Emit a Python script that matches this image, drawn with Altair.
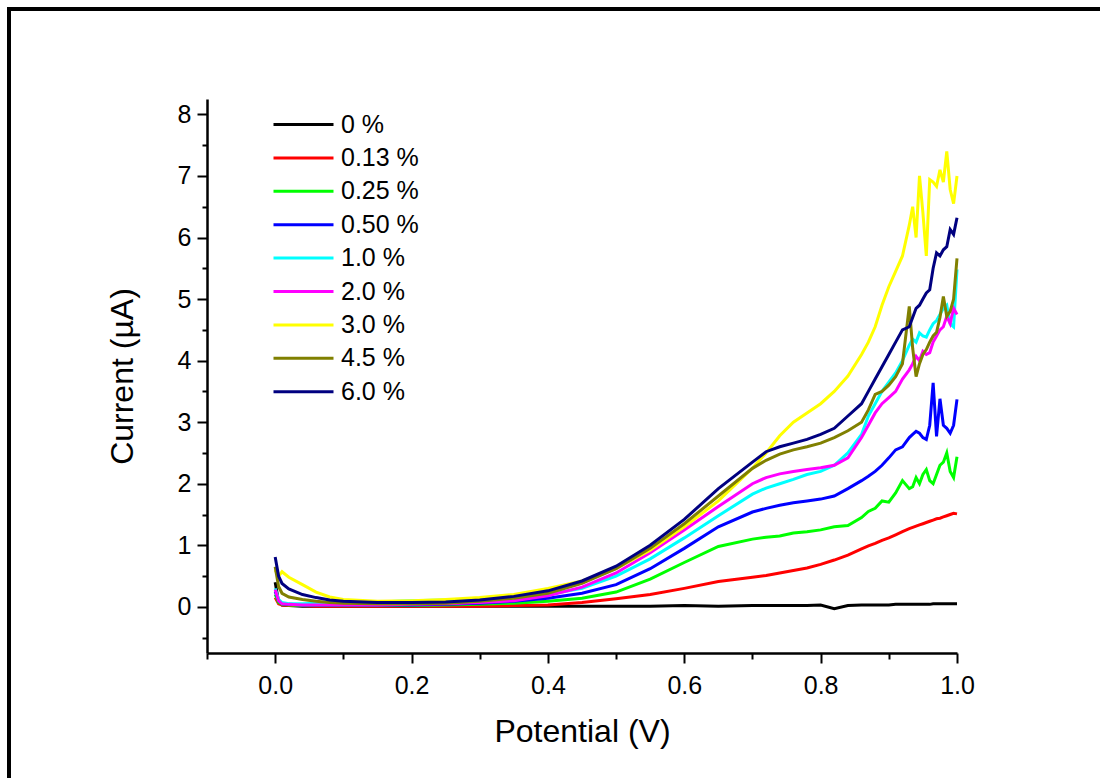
import altair as alt
import pandas as pd

# ---------------- data ----------------
POTENTIAL = [0, 0.005, 0.01, 0.02, 0.04, 0.06, 0.08, 0.1,
             0.15, 0.2, 0.25, 0.3, 0.35, 0.4, 0.45, 0.5, 0.55, 0.6, 0.65, 0.7,
             0.72, 0.74, 0.76, 0.78, 0.8, 0.82, 0.84, 0.86,
             0.87, 0.88, 0.89, 0.9, 0.91, 0.92, 0.93,
             0.935, 0.94, 0.945, 0.95, 0.955, 0.96, 0.965, 0.97, 0.975, 0.98, 0.985, 0.99, 0.995, 1.0]

SERIES = ["0 %", "0.13 %", "0.25 %", "0.50 %", "1.0 %", "2.0 %", "3.0 %", "4.5 %", "6.0 %"]
COLORS = ["#000000", "#FF0000", "#00FF00", "#0000FF", "#00FFFF", "#FF00FF", "#FFFF00", "#808000", "#000080"]

I_0 = [0.40, 0.08, 0.03, 0.02, 0.01, 0.01, 0.01, 0.01,
       0.01, 0.01, 0.01, 0.01, 0.01, 0.01, 0.01, 0.01, 0.01, 0.02, 0.01, 0.02,
       0.02, 0.02, 0.02, 0.02, 0.03, -0.03, 0.02, 0.03,
       0.03, 0.03, 0.03, 0.03, 0.04, 0.04, 0.04,
       0.04, 0.04, 0.04, 0.04, 0.04, 0.04, 0.05, 0.05, 0.05, 0.05, 0.05, 0.05, 0.05, 0.05]
I_013 = [0.15, 0.05, 0.03, 0.02, 0.02, 0.01, 0.01, 0.01,
         0.01, 0.01, 0.01, 0.01, 0.02, 0.03, 0.07, 0.13, 0.20, 0.30, 0.41, 0.48,
         0.51, 0.55, 0.59, 0.63, 0.69, 0.76, 0.84, 0.94,
         0.99, 1.03, 1.08, 1.12, 1.17, 1.22, 1.27,
         1.29, 1.31, 1.33, 1.35, 1.37, 1.39, 1.41, 1.43, 1.44, 1.46, 1.48, 1.50, 1.52, 1.51]
I_025 = [0.20, 0.07, 0.04, 0.03, 0.02, 0.02, 0.02, 0.02,
         0.02, 0.02, 0.03, 0.04, 0.06, 0.09, 0.14, 0.24, 0.45, 0.72, 0.98, 1.10,
         1.13, 1.15, 1.20, 1.22, 1.25, 1.30, 1.32, 1.45,
         1.55, 1.60, 1.72, 1.70, 1.85, 2.05, 1.92,
         1.95, 2.10, 2.00, 2.15, 2.23, 2.05, 2.00, 2.15, 2.30, 2.35, 2.50, 2.20, 2.10, 2.44]
I_050 = [0.25, 0.10, 0.05, 0.04, 0.03, 0.03, 0.03, 0.03,
         0.03, 0.03, 0.04, 0.06, 0.09, 0.14, 0.22, 0.36, 0.62, 0.95, 1.30, 1.54,
         1.60, 1.65, 1.69, 1.72, 1.75, 1.80, 1.92, 2.05,
         2.12, 2.20, 2.30, 2.42, 2.55, 2.60, 2.75,
         2.80, 2.85, 2.82, 2.75, 2.72, 2.95, 3.64, 2.77, 3.38, 2.95, 2.90, 2.82, 2.95, 3.37]
I_10 = [0.30, 0.12, 0.07, 0.05, 0.05, 0.06, 0.07, 0.07,
        0.08, 0.10, 0.11, 0.13, 0.15, 0.20, 0.30, 0.50, 0.78, 1.12, 1.48, 1.83,
        1.93, 2.00, 2.07, 2.15, 2.20, 2.30, 2.50, 2.80,
        3.10, 3.30, 3.50, 3.65, 3.80, 4.00, 4.25,
        4.35, 4.30, 4.45, 4.40, 4.38, 4.50, 4.60, 4.65, 4.75, 4.85, 4.90, 4.60, 4.55, 5.48]
I_20 = [0.28, 0.10, 0.05, 0.04, 0.03, 0.03, 0.03, 0.03,
        0.03, 0.04, 0.05, 0.07, 0.10, 0.18, 0.32, 0.55, 0.88, 1.25, 1.63, 2.00,
        2.10, 2.16, 2.20, 2.23, 2.26, 2.30, 2.42, 2.75,
        2.95, 3.15, 3.30, 3.40, 3.50, 3.70, 3.85,
        3.95, 4.07, 4.00, 4.15, 4.10, 4.13, 4.30, 4.40, 4.50, 4.55, 4.72, 4.60, 4.85, 4.75]
I_30 = [0.60, 0.50, 0.57, 0.48, 0.36, 0.24, 0.16, 0.12,
        0.09, 0.10, 0.12, 0.15, 0.20, 0.30, 0.42, 0.62, 0.92, 1.30, 1.72, 2.25,
        2.50, 2.78, 3.00, 3.15, 3.30, 3.50, 3.75, 4.10,
        4.30, 4.55, 4.90, 5.20, 5.45, 5.70, 6.20,
        6.50, 6.00, 7.00, 6.40, 5.70, 6.94, 6.90, 6.83, 7.10, 6.90, 7.40, 6.78, 6.55, 7.00]
I_45 = [0.65, 0.33, 0.22, 0.16, 0.12, 0.09, 0.07, 0.06,
        0.05, 0.05, 0.06, 0.09, 0.14, 0.22, 0.38, 0.62, 0.95, 1.35, 1.80, 2.25,
        2.38, 2.48, 2.55, 2.60, 2.66, 2.75, 2.86, 3.00,
        3.20, 3.45, 3.50, 3.60, 3.74, 3.95, 4.88,
        4.20, 3.74, 3.95, 4.10, 4.18, 4.30, 4.40, 4.46, 4.70, 5.04, 4.72, 4.80, 5.00, 5.66]
I_60 = [0.81, 0.50, 0.38, 0.29, 0.20, 0.15, 0.11, 0.09,
        0.07, 0.07, 0.08, 0.11, 0.17, 0.26, 0.42, 0.66, 1.00, 1.42, 1.92, 2.35,
        2.52, 2.60, 2.66, 2.72, 2.80, 2.90, 3.10, 3.30,
        3.50, 3.70, 3.90, 4.10, 4.30, 4.50, 4.55,
        4.70, 4.85, 4.90, 5.00, 5.10, 5.15, 5.50, 5.75, 5.70, 5.80, 5.85, 6.13, 6.05, 6.32]

CURRENTS = [I_0, I_013, I_025, I_050, I_10, I_20, I_30, I_45, I_60]

X_TICKS = [-0.1, 0.0, 0.1, 0.2, 0.3, 0.4, 0.5, 0.6, 0.7, 0.8, 0.9, 1.0]
Y_TICKS = [-0.5, 0, 0.5, 1, 1.5, 2, 2.5, 3, 3.5, 4, 4.5, 5, 5.5, 6, 6.5, 7, 7.5, 8]

# ---------------- table ----------------
rows = []
for name, ys in zip(SERIES, CURRENTS):
    for i, (x, y) in enumerate(zip(POTENTIAL, ys)):
        rows.append({"series": name, "potential": x, "current": y, "idx": i})
df = pd.DataFrame(rows)

FONT = "Liberation Sans"

x_axis = alt.Axis(
    values=X_TICKS,
    labelExpr="round(datum.value*10) % 2 == 0 ? format(datum.value, '.1f') : ''",
    tickSize={"condition": {"test": "round(datum.value*10) % 2 != 0", "value": 6}, "value": 10},
    tickWidth=2, tickColor="black",
    domainWidth=2.5, domainColor="black",
    labelFont=FONT, labelFontSize=25, labelColor="black", labelPadding=10,
    labelFlush=False, labelOverlap=False,
    titleFont=FONT, titleFontSize=32, titleFontWeight="normal", titleColor="black",
    titlePadding=18, grid=False,
)
y_axis = alt.Axis(
    values=Y_TICKS,
    labelExpr="round(datum.value*2) % 2 == 0 ? format(datum.value, 'd') : ''",
    tickSize={"condition": {"test": "round(datum.value*2) % 2 != 0", "value": 5}, "value": 10},
    tickWidth=2, tickColor="black",
    domainWidth=2.5, domainColor="black",
    labelFont=FONT, labelFontSize=25, labelColor="black", labelPadding=6,
    labelFlush=False, labelOverlap=False,
    titleFont=FONT, titleFontSize=32, titleFontWeight="normal", titleColor="black",
    titlePadding=38, grid=False,
)

lines = alt.Chart(df).mark_line(strokeWidth=3).encode(
    x=alt.X("potential:Q", title="Potential (V)",
            scale=alt.Scale(domain=[-0.1, 1.0], nice=False, zero=False), axis=x_axis),
    y=alt.Y("current:Q", title="Current (µA)",
            scale=alt.Scale(domain=[-0.75, 8.25], nice=False, zero=False), axis=y_axis),
    color=alt.Color("series:N", sort=SERIES,
                    scale=alt.Scale(domain=SERIES, range=COLORS),
                    legend=alt.Legend(title=None, orient="none", legendX=64, legendY=13,
                                      symbolType="M-1,0H5", symbolSize=400,
                                      symbolStrokeWidth=3, padding=0,
                                      labelFont=FONT, labelFontSize=25, labelColor="black",
                                      labelOffset=45, rowPadding=7.4)),
    order="idx:Q",
)

frame = alt.Chart(alt.Data(values=[{"k": 1}])).mark_rect(
    filled=False, stroke="black", strokeWidth=4, clip=False
).encode(
    x=alt.value(-198), x2=alt.value(1000), y=alt.value(-90), y2=alt.value(800)
)

chart = alt.layer(lines, frame).properties(
    width=750, height=554,
    autosize=alt.AutoSizeParams(type="none"),
    padding={"left": 207, "top": 99, "right": 143, "bottom": 125},
    background="white",
).configure_view(stroke=None)

chart.save("out.html", embed_options={"renderer": "svg", "actions": False})
